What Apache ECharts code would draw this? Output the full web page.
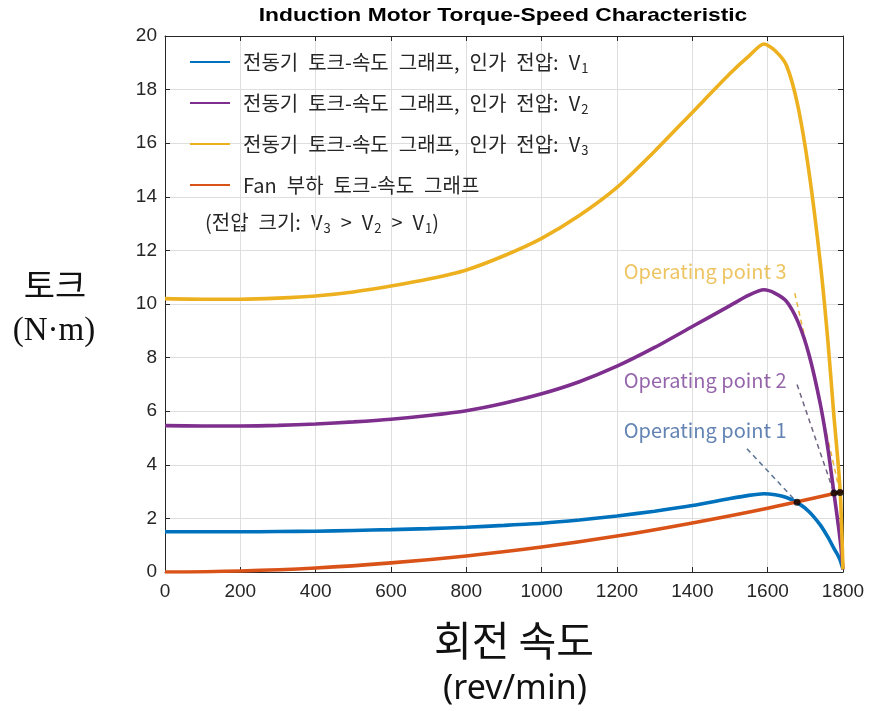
<!DOCTYPE html>
<html>
<head>
<meta charset="utf-8">
<script src="https://cdn.jsdelivr.net/npm/echarts@6/dist/echarts.min.js"></script>
<style>
  html, body { margin: 0; padding: 0; background: #ffffff; }
  #chart { width: 872px; height: 711px; }
</style>
</head>
<body>
<div id="chart"></div>
<script>
// Rotor speed samples (rev/min) for the motor torque curves
const speedMotor = [0, 100, 200, 300, 400, 500, 600, 700, 800, 900, 1000, 1100, 1200, 1300,
  1400, 1500, 1550, 1590, 1620, 1650, 1680, 1710, 1740, 1760, 1776, 1788, 1794, 1800];

// Motor torque (N·m) at applied voltage V1, V2, V3
const torqueV1 = [1.5, 1.5, 1.5, 1.51, 1.52, 1.55, 1.58, 1.62, 1.67, 1.74, 1.82, 1.94, 2.09, 2.27,
  2.48, 2.74, 2.86, 2.92, 2.88, 2.78, 2.58, 2.25, 1.75, 1.3, 0.88, 0.58, 0.38, 0.1];
const torqueV2 = [5.46, 5.45, 5.45, 5.47, 5.52, 5.6, 5.7, 5.84, 6.02, 6.3, 6.65, 7.1, 7.68, 8.38,
  9.16, 9.94, 10.33, 10.53, 10.4, 10.1, 9.35, 8.1, 6.25, 4.6, 2.95, 1.7, 1.0, 0.1];
const torqueV3 = [10.2, 10.18, 10.18, 10.22, 10.3, 10.45, 10.67, 10.93, 11.27, 11.8, 12.45, 13.3, 14.35, 15.7,
  17.15, 18.6, 19.25, 19.7, 19.45, 18.9, 17.4, 14.9, 11.5, 8.6, 5.8, 3.9, 2.6, 0.1];

// Fan load torque-speed curve
const speedFan = [0, 200, 400, 600, 800, 1000, 1200, 1400, 1600, 1800];
const torqueFan = [0, 0.04, 0.15, 0.34, 0.6, 0.93, 1.34, 1.83, 2.38, 3.0];

// Operating points (intersection of motor and fan curves)
const opSpeed = [1678, 1776, 1792];
const opTorque = [2.6, 2.95, 2.97];
const opNames = ['Operating point 1', 'Operating point 2', 'Operating point 3'];

// Axis ticks
const xTicks = [0, 200, 400, 600, 800, 1000, 1200, 1400, 1600, 1800];
const yTicks = [0, 2, 4, 6, 8, 10, 12, 14, 16, 18, 20];

// Legend names (the trailing digit becomes a subscript)
const seriesNames = [
  '전동기 토크-속도 그래프, 인가 전압: V1',
  '전동기 토크-속도 그래프, 인가 전압: V2',
  '전동기 토크-속도 그래프, 인가 전압: V3',
  'Fan 부하 토크-속도 그래프'
];

// Annotation anchors in data units: label text start, leader-line start
const opLabelAt = [[1218, 5.3], [1218, 7.16], [1218, 11.2]];
const opLeaderFrom = [[1545, 4.6], [1678, 7.0], [1672, 10.4]];

const colors = ['#0072BD', '#7E2F8E', '#EDB120', '#D95319'];
const labelColors = ['#3c64a0', '#7a3f96', '#E8B53A'];
const leaderColors = ['#5b7394', '#6f6482', '#E8B53A'];

const pairs = (xs, ys) => xs.map((x, i) => [x, ys[i]]);
// wider word spacing for the Korean captions
const wide = s => s.replace(/ /g, '\u2002');

const TICK_FONT = 'Liberation Sans, Arial, sans-serif';
const KR_FONT = '"Noto Sans CJK KR", "Noto Sans", sans-serif';

const curveSeries = [torqueV1, torqueV2, torqueV3].map((ys, i) => ({
  name: seriesNames[i],
  type: 'line',
  data: pairs(speedMotor, ys),
  smooth: 0.25,
  symbol: 'none',
  lineStyle: { color: colors[i], width: 3.6 },
  itemStyle: { color: colors[i] },
  z: 4
}));

const fanSeries = {
  name: seriesNames[3],
  type: 'line',
  data: pairs(speedFan, torqueFan),
  smooth: 0.4,
  symbol: 'none',
  lineStyle: { color: colors[3], width: 3.6 },
  itemStyle: { color: colors[3] },
  z: 4
};

const leaderSeries = opNames.map((n, i) => ({
  type: 'line',
  silent: true,
  data: [opLeaderFrom[i], [opSpeed[i], opTorque[i]]],
  symbol: 'none',
  lineStyle: { color: leaderColors[i], width: 1.5, type: [5, 4] },
  z: 2
}));

const opLabelSeries = {
  type: 'scatter',
  silent: true,
  symbolSize: 0,
  data: opNames.map((n, i) => ({
    name: n,
    value: opLabelAt[i],
    label: { color: labelColors[i] }
  })),
  label: {
    show: true,
    position: 'right',
    distance: 0,
    formatter: p => p.name,
    fontSize: 20,
    fontFamily: KR_FONT
  },
  z: 5
};

const opDotSeries = {
  type: 'scatter',
  silent: true,
  data: pairs(opSpeed, opTorque),
  symbol: 'circle',
  symbolSize: 7,
  itemStyle: { color: '#000000' },
  z: 6
};

const subRich = {
  sub: { fontSize: 13, fontFamily: KR_FONT, color: '#262626', verticalAlign: 'bottom', lineHeight: 26, padding: [0, 0, 0, 1] }
};

const option = {
  animation: false,
  backgroundColor: '#ffffff',
  grid: { left: 165, right: 29, top: 36, bottom: 139, containLabel: false },
  xAxis: [{
    type: 'value',
    min: xTicks[0], max: xTicks[xTicks.length - 1], interval: xTicks[1] - xTicks[0],
    axisLine: { show: true, lineStyle: { color: '#262626', width: 1 } },
    axisTick: { show: true, inside: true, length: 5, lineStyle: { color: '#262626' } },
    axisLabel: { fontSize: 19, color: '#262626', fontFamily: TICK_FONT, margin: 10, formatter: v => String(v) },
    splitLine: { show: true, lineStyle: { color: '#dedede', width: 1 } }
  }, {
    type: 'value', position: 'top',
    min: xTicks[0], max: xTicks[xTicks.length - 1], interval: xTicks[1] - xTicks[0],
    axisLine: { show: true, onZero: false, lineStyle: { color: '#262626', width: 1 } },
    axisTick: { show: true, inside: true, length: 5, lineStyle: { color: '#262626' } },
    axisLabel: { show: false },
    splitLine: { show: false }
  }],
  yAxis: [{
    type: 'value',
    min: yTicks[0], max: yTicks[yTicks.length - 1], interval: yTicks[1] - yTicks[0],
    axisLine: { show: true, lineStyle: { color: '#262626', width: 1 } },
    axisTick: { show: true, inside: true, length: 5, lineStyle: { color: '#262626' } },
    axisLabel: { fontSize: 19, color: '#262626', fontFamily: TICK_FONT, margin: 8, formatter: v => String(v) },
    splitLine: { show: true, lineStyle: { color: '#dedede', width: 1 } }
  }, {
    type: 'value', position: 'right',
    min: yTicks[0], max: yTicks[yTicks.length - 1], interval: yTicks[1] - yTicks[0],
    axisLine: { show: true, onZero: false, lineStyle: { color: '#262626', width: 1 } },
    axisTick: { show: true, inside: true, length: 5, lineStyle: { color: '#262626' } },
    axisLabel: { show: false },
    splitLine: { show: false }
  }],
  legend: {
    orient: 'vertical',
    left: 185, top: 44,
    data: seriesNames,
    icon: 'rect',
    itemWidth: 40, itemHeight: 2,
    itemGap: 15,
    selectedMode: false,
    textStyle: {
      fontSize: 20, fontFamily: KR_FONT, color: '#262626', lineHeight: 26,
      padding: [0, 0, 0, 8],
      rich: subRich
    },
    formatter: name => {
      const m = name.match(/^(.*V)(\d)$/);
      return m ? wide(m[1]) + '{sub|' + m[2] + '}' : wide(name);
    }
  },
  graphic: [
    {
      type: 'text', x: 503, y: 16, scaleX: 1.2,
      style: { text: 'Induction Motor Torque-Speed Characteristic', font: 'bold 19px Liberation Sans, Arial, sans-serif', fill: '#000000', align: 'center', verticalAlign: 'middle' }
    },
    {
      type: 'text',
      x: 205, y: 222,
      style: {
        text: wide('(전압 크기: V') + '{sub|3}' + wide(' > V') + '{sub|2}' + wide(' > V') + '{sub|1})',
        font: '20px ' + KR_FONT, fill: '#262626',
        verticalAlign: 'middle', lineHeight: 26,
        rich: subRich
      }
    },
    {
      type: 'text', x: 55, y: 285,
      style: { text: '토크', font: '34px ' + KR_FONT, fill: '#111111', align: 'center', verticalAlign: 'middle' }
    },
    {
      type: 'text', x: 54, y: 331,
      style: { text: '(N·m)', font: '33px Liberation Serif, serif', fill: '#111111', align: 'center', verticalAlign: 'middle' }
    },
    {
      type: 'text', x: 514, y: 640,
      style: { text: '회전 속도', font: '41px ' + KR_FONT, fill: '#111111', align: 'center', verticalAlign: 'middle' }
    },
    {
      type: 'text', x: 515, y: 689,
      style: { text: '(rev/min)', font: '34px "Noto Sans", sans-serif', fill: '#111111', align: 'center', verticalAlign: 'middle' }
    }
  ],
  series: [...leaderSeries, ...curveSeries, fanSeries, opLabelSeries, opDotSeries]
};

const chart = echarts.init(document.getElementById('chart'), null, { renderer: 'canvas' });
chart.setOption(option);
</script>
</body>
</html>
